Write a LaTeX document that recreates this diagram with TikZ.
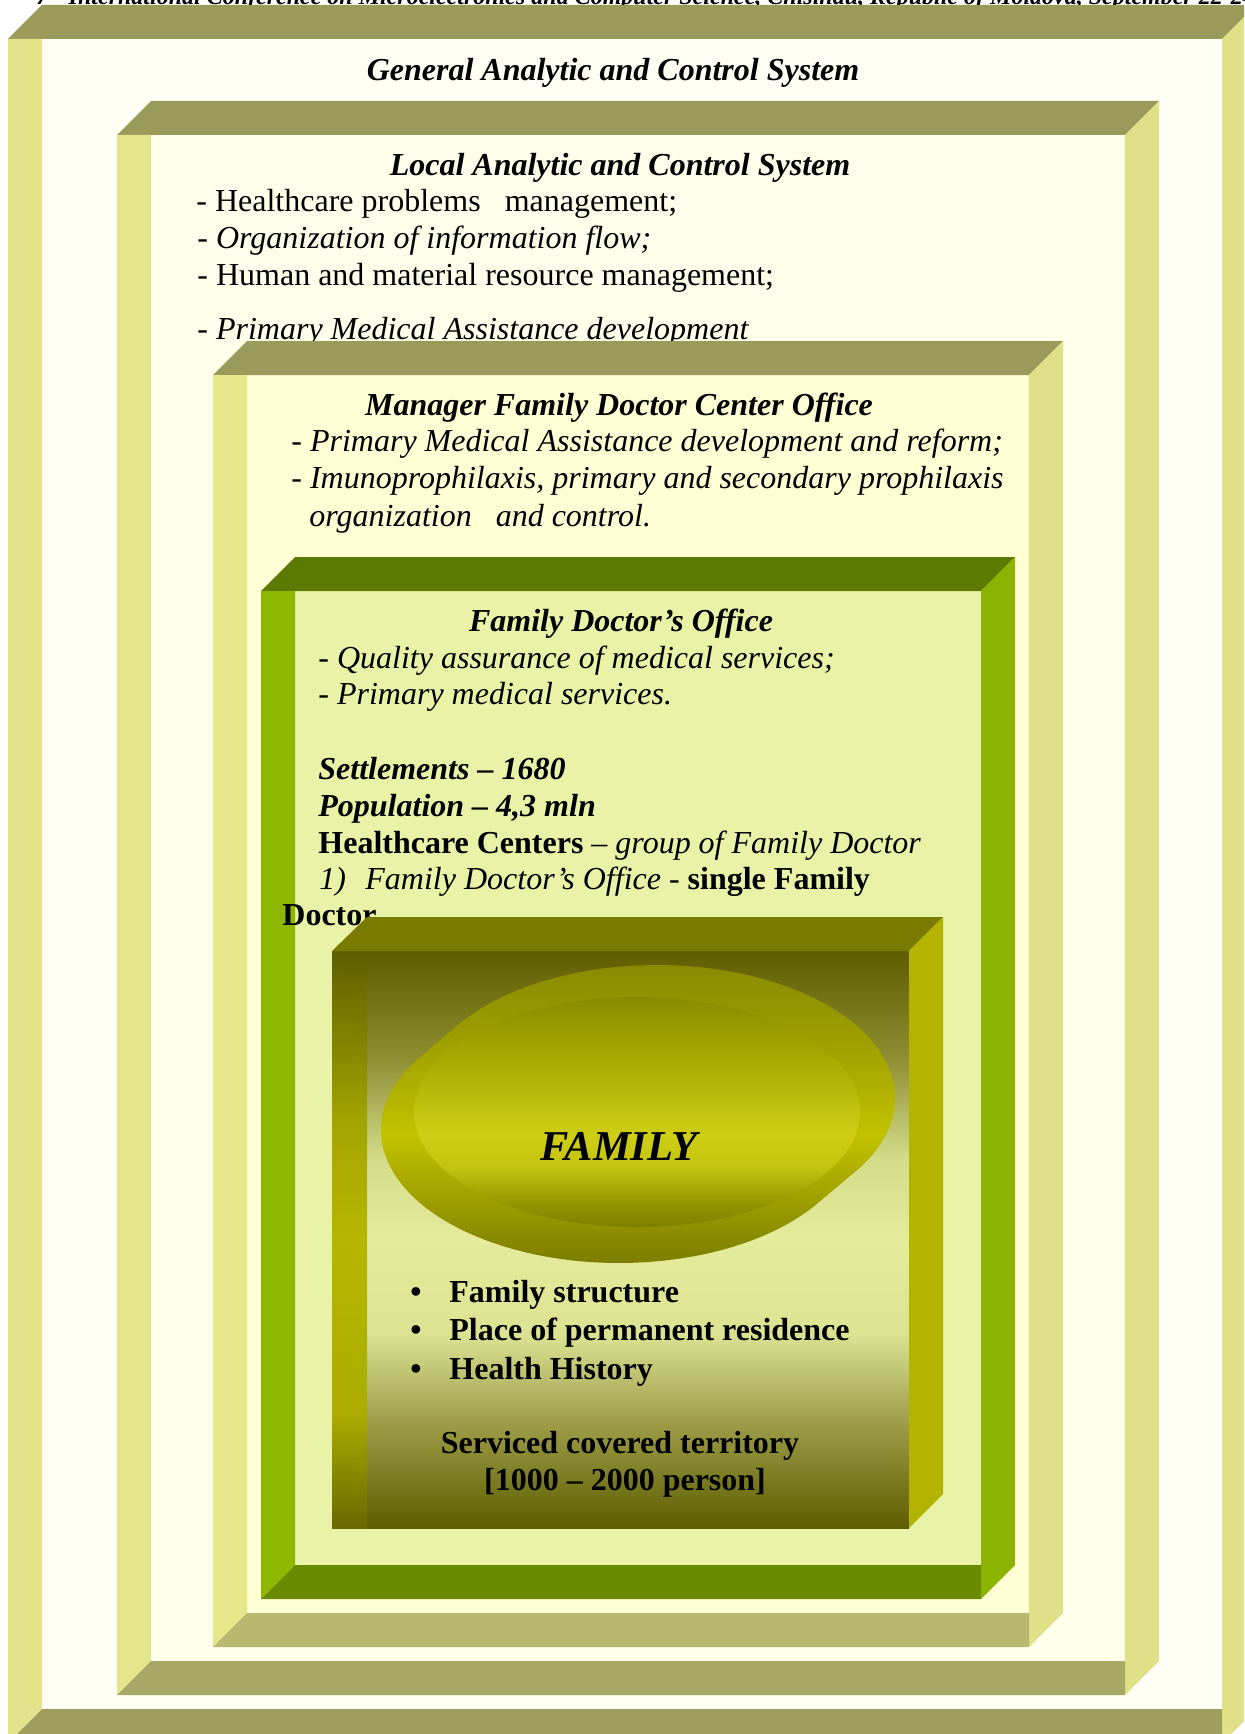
\documentclass[tikz,border=0pt]{standalone}
\usepackage{fontspec}
\setmainfont{Liberation Serif}
\definecolor{bandtop}{HTML}{9A9A5B}
\definecolor{bandright}{HTML}{E0E088}
\definecolor{leftA}{HTML}{E3E38B}
\definecolor{leftB}{HTML}{E4E48A}
\definecolor{leftC}{HTML}{E6E68A}
\definecolor{botA}{HTML}{9E9E5F}
\definecolor{botB}{HTML}{A8A866}
\definecolor{botC}{HTML}{B8B870}
\definecolor{innerA}{HTML}{FEFEF5}
\definecolor{innerB}{HTML}{FEFEEA}
\definecolor{innerC}{HTML}{FFFFD5}
\definecolor{innerD}{HTML}{E8F3A8}
\definecolor{gtop}{HTML}{5C7A00}
\definecolor{gleft}{HTML}{8CB800}
\definecolor{gright}{HTML}{8AB400}
\definecolor{gbot}{HTML}{6A8A00}
\definecolor{ftop}{HTML}{7A7A00}
\definecolor{fright}{HTML}{B3B300}
\definecolor{fdark}{HTML}{5E5E00}
\definecolor{fmid1}{HTML}{8C8C30}
\definecolor{fmid2}{HTML}{D4DC8A}
\definecolor{flight}{HTML}{E4EC9C}
\definecolor{fmid3}{HTML}{DCE494}
\definecolor{fmid4}{HTML}{9C9C48}
\definecolor{lbA}{HTML}{A4A400}
\definecolor{lbB}{HTML}{B6B600}
\definecolor{lbC}{HTML}{ACAC00}
\definecolor{lbD}{HTML}{686800}
\definecolor{rimT}{HTML}{858500}
\definecolor{rimU}{HTML}{A0A000}
\definecolor{rimM}{HTML}{C2C200}
\definecolor{rimB}{HTML}{727200}
\definecolor{faceT}{HTML}{8A8A00}
\definecolor{faceU}{HTML}{A8A800}
\definecolor{faceM}{HTML}{CECE16}
\definecolor{faceL}{HTML}{C4C410}
\definecolor{faceV}{HTML}{949400}
\definecolor{faceB}{HTML}{7E7E00}
\pgfdeclareverticalshading{innersh}{100bp}{color(0bp)=(fdark); color(25bp)=(fdark); color(34bp)=(fmid4); color(42bp)=(fmid3); color(50bp)=(flight); color(57bp)=(fmid2); color(66bp)=(fmid1); color(75bp)=(fdark); color(100bp)=(fdark)}
\pgfdeclareverticalshading{leftsh}{100bp}{color(0bp)=(lbD); color(25bp)=(lbD); color(35bp)=(lbC); color(50bp)=(lbB); color(60bp)=(lbA); color(75bp)=(fdark); color(100bp)=(fdark)}
\pgfdeclareverticalshading{rimsh}{100bp}{color(0bp)=(rimB); color(25bp)=(rimB); color(47bp)=(rimM); color(60bp)=(rimU); color(75bp)=(rimT); color(100bp)=(rimT)}
\pgfdeclareverticalshading{facesh}{100bp}{color(0bp)=(faceB); color(25bp)=(faceB); color(30bp)=(faceV); color(38bp)=(faceL); color(45bp)=(faceM); color(62bp)=(faceU); color(75bp)=(faceT); color(100bp)=(faceT)}
% #1 x1, #2 y1, #3 x2, #4 y2, #5 inner, #6 top, #7 left, #8 right, #9 bottom
\newcommand\bevelbox[9]{%
  \fill[#5] (#1+34,#2+34) rectangle (#3-34,#4-34);
  \fill[#6] (#1+34,#2) -- (#3,#2) -- (#3-34,#2+34) -- (#1,#2+34) -- cycle;
  \fill[#7] (#1,#2+34) -- (#1+34,#2+34) -- (#1+34,#4-34) -- (#1,#4) -- cycle;
  \fill[#8] (#3-34,#2+34) -- (#3,#2) -- (#3,#4-34) -- (#3-34,#4) -- cycle;
  \fill[#9] (#1+34,#4-34) -- (#3-34,#4-34) -- (#3-34,#4) -- (#1,#4) -- cycle;
}
\tikzset{
  body/.style={font=\fontsize{16}{19}\selectfont, inner sep=0pt, anchor=base west},
  ttl/.style={font=\fontsize{16}{19}\selectfont\bfseries\itshape, inner sep=0pt, anchor=base},
  ctr/.style={font=\fontsize{16}{19}\selectfont\bfseries, inner sep=0pt, anchor=base},
}
\begin{document}
\begin{tikzpicture}[x=0.5pt,y=-0.5pt]
\useasboundingbox (0,0) rectangle (1244,1734);
\clip (0,0) rectangle (1244,1734);
\fill[white] (0,0) rectangle (1244,1734);
% clipped running header
\node[font=\fontsize{12}{14}\selectfont\bfseries\itshape, inner sep=0pt, anchor=base west] (hdr) at (36,4.5)
  {7\textsuperscript{th} International Conference on Microelectronics and Computer Science, Chisinau, Republic of Moldova, September 22-24, 2011};
% box 1
\bevelbox{8}{5}{1256}{1743}{innerA}{bandtop}{leftA}{bandright}{botA}
\node[ttl] (g1) at (613,81) {General Analytic and Control System};
% box 2
\bevelbox{117}{101}{1159}{1695}{innerB}{bandtop}{leftB}{bandright}{botB}
\node[ttl] (l1) at (620,176) {Local Analytic and Control System};
\node[body] (l2) at (196,211) {- Healthcare problems\ \ \ management;};
\node[body] (l3) at (197,248) {\itshape - Organization of information flow;};
\node[body] (l4) at (197,285) {- Human and material resource management;};
\node[body] (l5) at (197,339) {\itshape - Primary Medical Assistance development};
% box 3
\bevelbox{213}{341}{1063}{1647}{innerC}{bandtop}{leftC}{bandright}{botC}
\node[ttl] (m1) at (619,415) {Manager Family Doctor Center Office};
\node[body] (m2) at (291,451) {\itshape - Primary Medical Assistance development and reform;};
\node[body] (m3) at (291,488) {\itshape - Imunoprophilaxis, primary and secondary prophilaxis};
\node[body] (m4) at (309,526) {\itshape organization\ \ \ and control.};
% box 4
\bevelbox{261}{557}{1015}{1599}{innerD}{gtop}{gleft}{gright}{gbot}
\node[ttl] (f1) at (621,631) {Family Doctor’s Office};
\node[body] (f2) at (318,668) {\itshape - Quality assurance of medical services;};
\node[body] (f3) at (318,704) {\itshape - Primary medical services.};
\node[body] (f4) at (318,779) {\bfseries\itshape Settlements – 1680};
\node[body] (f5) at (318,816) {\bfseries\itshape Population – 4,3 mln};
\node[body] (f6) at (318,853) {\textbf{Healthcare Centers} – \textit{group of Family Doctor}};
\node[body] (f7) at (319,889) {\textit{1)}};
\node[body] (f8) at (365,889) {\textit{Family Doctor’s Office} - \textbf{single Family}};
\node[body] (f9) at (282,925) {\bfseries Doctor};
% box 5
\shade[shading=innersh] (367,951) rectangle (909,1528);
\shade[shading=leftsh] (332,951) rectangle (367,1528);
\fill[ftop] (367,917) -- (943,917) -- (909,951) -- (332,951) -- cycle;
\fill[fright] (909,951) -- (943,917) -- (943,1494) -- (909,1528) -- cycle;
% family disk: hull of two offset ellipses, with an inset face
\shade[shading=rimsh] (458.7,1024.5) arc[start angle=213.57, end angle=393.57, x radius=238, y radius=133]
  -- (817.3,1203.5) arc[start angle=33.57, end angle=213.57, x radius=238, y radius=133] -- cycle;
\shade[shading=facesh] (637,1112) ellipse [x radius=223, y radius=115];
\node[font=\fontsize{21.25}{25}\selectfont\bfseries\itshape, inner sep=0pt, anchor=base] (fam) at (619,1160) {FAMILY};
\node[ctr] (d1) at (416,1302) {\textbullet};
\node[ctr] (d2) at (416,1340) {\textbullet};
\node[ctr] (d3) at (416,1379) {\textbullet};
\node[body, font=\fontsize{16}{19}\selectfont\bfseries] (b1) at (449,1302) {Family structure};
\node[body, font=\fontsize{16}{19}\selectfont\bfseries] (b2) at (449,1340) {Place of permanent residence};
\node[body, font=\fontsize{16}{19}\selectfont\bfseries] (b3) at (449,1379) {Health History};
\node[ctr] (s1) at (620,1453) {Serviced covered territory};
\node[ctr] (s2) at (625,1490) {[1000 – 2000 person]};
\end{tikzpicture}
\end{document}
